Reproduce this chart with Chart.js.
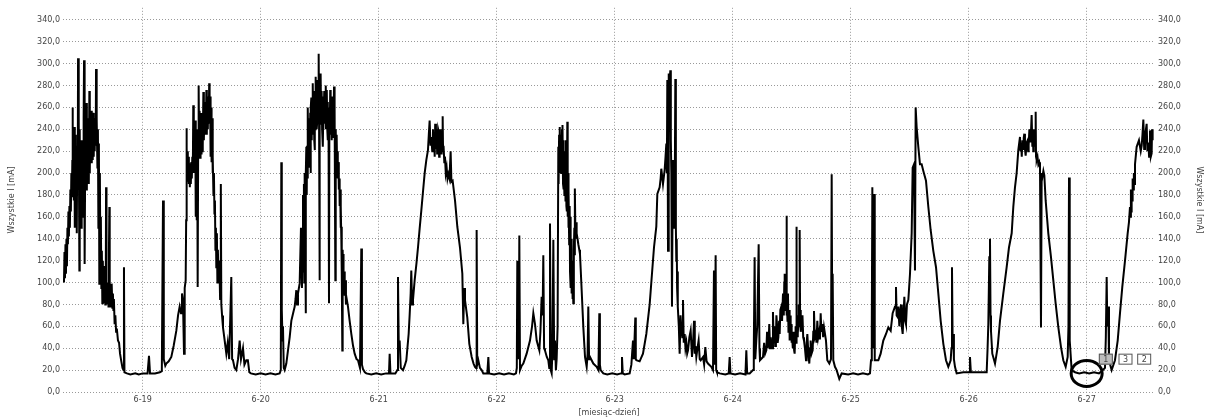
<!DOCTYPE html>
<html>
<head>
<meta charset="utf-8">
<script src="https://cdn.jsdelivr.net/npm/chart.js@4.4.0/dist/chart.umd.min.js"></script>
<style>
  html, body { margin: 0; padding: 0; background: #fff; }
  canvas { display: block; }
</style>
</head>
<body>
<canvas id="currentChart" width="1210" height="419"></canvas>
<script>
// x = hours since 6-18 00:00, y = current [mA]
const readings18 = [
  [8.0,100],[8.1,128],[8.2,104],[8.3,135],[8.4,108],[8.5,140],[8.6,115],[8.7,150],[8.8,135],[8.9,165],
  [9.0,142],[9.1,170],[9.2,150],[9.3,185],[9.4,165],[9.5,200],[9.6,178],[9.7,212],[9.75,260],[9.8,180],
  [9.9,230],[10.0,175],[10.1,242],[10.2,150],[10.3,235],[10.4,190],[10.5,220],[10.6,145],[10.7,225],[10.8,190],
  [10.86,305],[10.95,200],[11.05,250],[11.13,111],[11.2,240],[11.3,160],[11.4,230],[11.5,150],[11.6,196],[11.7,160],
  [11.8,230],[11.9,175],[12.0,250],[12.08,303],[12.15,190],[12.25,117],[12.35,240],[12.45,190],[12.55,264],[12.65,184],
  [12.75,250],[12.85,200],[12.95,240],[13.05,190],[13.16,275],[13.25,200],[13.35,250],[13.45,215],[13.55,257],[13.65,209],
  [13.77,250],[13.85,212],[13.95,255],[14.05,215],[14.15,250],[14.25,220],[14.35,248],[14.45,225],[14.52,295],[14.6,230],
  [14.7,250],[14.8,205],[14.9,240],[15.0,150],[15.1,227],[15.19,99],[15.3,200],[15.4,110],[15.5,160],[15.6,95],
  [15.7,129],[15.8,81],[15.9,120],[16.0,85],[16.1,110],[16.2,82],[16.3,115],[16.4,80],[16.5,100],[16.56,187],
  [16.65,85],[16.75,100],[16.85,80],[16.95,95],[17.05,78],[17.15,130],[17.23,169],[17.3,90],[17.4,78],[17.5,95],
  [17.6,80],[17.7,99],[17.84,77],[17.95,90],[18.05,75],[18.15,85],[18.3,62],[18.45,70],[18.6,55],[18.75,58],
  [18.98,47],[19.2,45],[19.4,35],[19.66,28],[19.9,22],[20.1,20],[20.2,114],[20.3,18],[20.8,17],[21.5,16],
  [22.5,17],[23.2,16],[24,17],[25.0,17],[25.29,33],[25.5,17],[26.5,17],[27.5,18],[27.9,19],[28.14,175],
  [28.3,30],[28.6,24],[28.81,26],[29.3,28],[29.83,32],[30.3,42],[30.85,56],[31.2,70],[31.53,78],[31.8,72],
  [32.0,90],[32.2,84],[32.41,35],[32.55,95],[32.75,102],[32.85,157],[32.9,241],[32.95,160],[33.0,223],[33.08,193],
  [33.15,220],[33.22,195],[33.3,215],[33.4,190],[33.5,209],[33.6,187],[33.7,205],[33.8,190],[33.9,210],[34.0,195],
  [34.1,215],[34.2,200],[34.3,262],[34.4,205],[34.5,230],[34.6,200],[34.7,248],[34.8,160],[34.9,240],[35.0,157],
  [35.1,230],[35.19,96],[35.3,235],[35.39,280],[35.48,230],[35.58,257],[35.68,214],[35.78,250],[35.88,218],[35.98,255],
  [36.08,220],[36.18,250],[36.27,225],[36.35,274],[36.45,230],[36.55,255],[36.65,235],[36.75,265],[36.85,240],[36.96,276],
  [37.05,235],[37.15,270],[37.25,240],[37.35,265],[37.45,245],[37.53,282],[37.62,250],[37.72,270],[37.82,215],[37.92,260],
  [38.02,210],[38.12,250],[38.2,200],[38.3,215],[38.4,180],[38.5,200],[38.6,163],[38.7,175],[38.8,130],[38.9,150],
  [38.98,114],[39.1,145],[39.2,100],[39.3,130],[39.45,100],[39.6,120],[39.75,85],[39.9,190],[40.0,80],[40.15,70],
  [40.34,59],[40.6,50],[41.02,35],[41.3,45],[41.6,30],[42.03,105],[42.2,30],[42.37,29],[42.7,22],[43.05,20],
  [43.4,30],[43.73,47],[44.0,30],[44.41,40],[44.7,25],[45.08,29],[45.4,29],[45.7,18]
];
const readings20 = [
  [46.0,17],[47,16],[48,17],[49,16],[50,17],[51,16],[51.86,17],[52.1,20],[52.2,210],[52.3,75],
  [52.45,47],[52.54,60],[52.7,22],[52.88,20],[53.22,26],[53.56,38],[53.9,50],[54.24,65],[54.6,72],[54.92,78],
  [55.1,85],[55.25,93],[55.4,80],[55.59,90],[55.93,99],[56.2,150],[56.4,95],[56.5,130],[56.61,180],[56.7,110],
  [56.8,190],[56.88,100],[56.95,200],[57.05,150],[57.15,72],[57.22,200],[57.29,224],[57.37,180],[57.45,225],[57.53,195],
  [57.63,260],[57.7,210],[57.78,240],[57.83,205],[57.9,250],[58.0,215],[58.08,255],[58.15,200],[58.22,260],[58.31,269],
  [58.38,230],[58.45,265],[58.55,235],[58.64,282],[58.72,240],[58.8,270],[58.9,230],[58.98,221],[59.05,275],[59.12,240],
  [59.19,288],[59.27,245],[59.35,275],[59.44,240],[59.53,248],[59.6,285],[59.7,250],[59.8,309],[59.87,260],[59.95,285],
  [60.0,102],[60.06,280],[60.13,250],[60.2,291],[60.3,245],[60.4,275],[60.5,240],[60.6,270],[60.68,224],[60.77,265],
  [60.85,250],[60.93,275],[61.02,245],[61.1,270],[61.2,240],[61.28,280],[61.36,250],[61.45,276],[61.55,240],[61.62,265],
  [61.69,230],[61.8,260],[61.9,81],[61.98,255],[62.05,235],[62.15,276],[62.24,240],[62.32,270],[62.4,230],[62.51,265],
  [62.6,233],[62.7,270],[62.8,240],[62.92,279],[63.0,235],[63.08,260],[63.19,102],[63.27,240],[63.35,215],[63.46,235],
  [63.55,205],[63.65,220],[63.73,195],[63.82,210],[63.9,185],[64.0,195],[64.07,170],[64.17,185],[64.25,150],[64.33,170],
  [64.41,140],[64.47,151],[64.52,110],[64.61,38],[64.68,130],[64.75,105],[64.82,126],[64.9,95],[65.0,110],[65.1,88],
  [65.22,102],[65.35,80],[65.5,85],[65.76,78],[66.1,65],[66.44,53],[66.8,42],[67.12,35],[67.5,30],[67.8,29],
  [68.2,22],[68.47,131],[68.6,25],[68.81,21],[69.2,18],[69.49,17],[70.5,16],[71.5,17],[72.5,16],[73.5,17],
  [74.1,17],[74.24,35],[74.4,17],[75.4,17],[75.8,20],[75.93,105],[76.1,40],[76.27,47],[76.5,22],[76.95,20],
  [77.3,24],[77.63,29],[78.1,53],[78.3,70],[78.51,90],[78.64,111],[78.8,80],[78.98,84],[79.32,102],[79.7,118],
  [80,132],[80.35,150],[80.68,166],[81.0,182],[81.36,200],[81.7,212],[82.03,221],[82.2,235],[82.37,248],[82.55,225],
  [82.71,233],[82.9,220],[83.05,240]
];
const readings22 = [
  [83.15,222],[83.3,228],[83.4,215],[83.5,245],[83.65,222],[83.8,240],[83.9,218],[84.0,225],[84.1,240],[84.2,238],
  [84.3,215],[84.4,220],[84.5,240],[84.6,235],[84.7,218],[84.8,225],[84.9,238],[85.02,252],[85.1,220],[85.2,225],
  [85.35,210],[85.49,215],[85.65,200],[85.83,205],[86.0,195],[86.17,199],[86.4,195],[86.64,220],[86.8,192],[87.05,193],
  [87.53,175],[88,151],[88.54,132],[89.02,108],[89.22,62],[89.4,95],[89.56,84],[90.03,68],[90.44,44],[90.92,32],
  [91.3,26],[91.59,23],[91.8,22],[91.93,148],[92.05,25],[92.27,29],[92.6,22],[92.95,20],[93.29,17],[94.1,17],
  [94.31,32],[94.45,17],[95.5,16],[96.5,17],[97.5,16],[98.5,17],[99.5,16],[99.93,17],[100.1,22],[100.2,120],
  [100.35,40],[100.5,30],[100.61,143],[100.75,20],[101.1,24],[101.42,26],[102.1,35],[102.78,47],[103.2,60],[103.46,72],
  [103.8,62],[104.14,47],[104.68,38],[104.9,55],[105.15,87],[105.35,70],[105.49,125],[105.65,40],[105.83,38],[106.2,32],
  [106.51,29],[106.7,22],[106.85,154],[107.0,20],[107.19,17],[107.35,40],[107.53,139],[107.7,30],[107.86,47],[108.05,20],
  [108.2,30],[108.4,60],[108.54,224],[108.6,190],[108.7,235],[108.78,200],[108.88,242],[108.95,205],[109.05,235],[109.12,200],
  [109.22,221],[109.3,240],[109.36,205],[109.42,244],[109.5,190],[109.55,230],[109.62,185],[109.69,212],[109.78,180],[109.9,220],
  [110.0,175],[110.1,230],[110.18,170],[110.25,215],[110.3,165],[110.37,247],[110.45,160],[110.52,200],[110.58,150],[110.66,184],
  [110.75,135],[110.85,170],[110.92,110],[111.0,160],[111.1,95],[111.18,140],[111.25,90],[111.33,120],[111.4,85],[111.5,110],
  [111.59,81],[111.7,130],[111.8,150],[111.88,125],[111.93,186],[112.0,150],[112.1,140],[112.2,155],[112.27,145],[112.45,140],
  [112.61,135],[112.8,130],[112.95,126],[113.29,93],[113.63,59],[113.97,32],[114.31,23],[114.5,35],[114.64,78],[114.8,30],
  [114.98,32],[115.66,26],[116.34,23],[116.7,20],[116.88,72],[117.0,25],[117.15,20],[117.69,17]
];
const readings23 = [
  [118.5,16],[119.5,17],[120.5,16],[121.3,17],[121.49,32],[121.65,17],[122.03,16],[123.05,17],[123.4,25],[123.73,47],
  [123.9,30],[124.2,68],[124.3,30],[124.41,29],[125.08,28],[125.76,35],[126.44,53],[127.12,80],[127.59,108],[128,132],
  [128.47,151],[128.68,181],[129.15,187],[129.35,195],[129.49,204],[129.83,190],[130.17,203],[130.35,215],[130.51,227],[130.62,200],
  [130.71,285],[130.78,240],[130.85,129],[130.95,270],[131.0,240],[131.05,291],[131.12,250],[131.2,285],[131.32,294],[131.4,250],
  [131.45,230],[131.53,200],[131.66,78],[131.8,190],[131.86,212],[131.95,170],[132.05,180],[132.12,150],[132.2,163],[132.34,286],
  [132.45,150],[132.54,120],[132.62,140],[132.7,95],[132.8,110],[132.88,78],[133.05,60],[133.22,35],[133.4,70],[133.56,59],
  [133.75,50],[133.9,84],[134.05,45],[134.24,53],[134.4,40],[134.58,45],[134.75,35],[134.92,38],[135.2,50],[135.46,56],
  [135.73,32],[135.95,45],[136.14,65],[136.3,35],[136.45,42],[136.61,32],[136.85,40],[137.08,47],[137.3,30],[137.49,29],
  [137.97,32],[138.2,25],[138.44,41],[138.7,28],[138.98,26],[139.66,23],[140.0,20],[140.2,111],[140.35,25],[140.54,125],
  [140.65,20],[140.81,18],[141.36,17],[142.5,16],[143.2,17],[143.39,32],[143.55,17],[144.5,16],[145.5,17],[146.6,16],
  [146.78,38],[146.95,17],[147.46,17],[148.14,20],[148.3,40],[148.47,123],[148.6,30],[148.81,47],[149.0,60],[149.29,135],
  [149.45,40],[149.56,29],[150.17,32],[150.4,45],[150.6,35],[150.85,38],[151.0,55],[151.15,40],[151.32,47],[151.45,62],
  [151.6,40],[151.75,50],[151.86,44],[152.05,40],[152.2,73],[152.35,45],[152.45,60],[152.54,53],[152.65,42],[152.8,48],
  [152.9,70],[153.02,62],[153.15,45],[153.3,50],[153.45,65],[153.56,53],[153.7,75],[153.9,78],[154.05,65],[154.24,90],
  [154.4,70],[154.5,100],[154.58,108],[154.68,75],[154.75,80],[154.85,100],[154.92,161],[155.0,70],[155.05,85],[155.15,65],
  [155.25,90],[155.35,55],[155.45,60],[155.52,75],[155.59,47],[155.68,65],[155.75,70],[155.85,50],[155.93,62],[156.0,45],
  [156.1,50],[156.2,40],[156.27,44],[156.4,55],[156.5,38],[156.61,35],[156.7,50],[156.8,60],[156.9,45],[156.95,151],
  [157.05,60],[157.1,70],[157.2,50],[157.29,53],[157.38,65],[157.45,80],[157.55,60],[157.63,148],[157.72,65],[157.8,75],
  [157.9,55],[157.97,60]
];
const readings25 = [
  [158.2,70],[158.35,50],[158.51,47],[158.7,40],[158.92,29],[159.05,45],[159.19,53],[159.4,35],[159.59,26],[159.75,40],
  [159.86,47],[160.05,35],[160.27,38],[160.4,55],[160.54,74],[160.7,50],[160.88,53],[161.05,45],[161.22,65],[161.4,50],
  [161.63,56],[161.75,48],[161.9,72],[162.05,55],[162.24,62],[162.4,50],[162.58,59],[162.98,47],[163.25,29],[163.66,26],
  [164.0,30],[164.14,199],[164.25,60],[164.34,108],[164.47,29],[164.81,23],[165.15,20],[165.69,12],[166.17,17],[167.5,16],
  [168.5,17],[169.5,16],[170.5,17],[171.5,16],[171.93,17],[172.14,29],[172.3,60],[172.41,187],[172.55,40],[172.75,181],
  [172.85,40],[172.95,29],[173.63,29],[174.1,35],[174.64,47],[175.19,53],[175.66,59],[176.14,56],[176.54,72],[177.02,78],
  [177.22,96],[177.35,70],[177.49,69],[177.7,78],[177.9,60],[178.05,72],[178.24,80],[178.4,60],[178.58,53],[178.75,70],
  [178.92,87],[179.1,65],[179.25,62],[179.45,80],[179.73,84],[180.07,108],[180.41,145],[180.61,205],[180.88,208],[181.08,111],
  [181.22,260],[181.42,242],[181.76,224],[182.1,208],[182.44,208],[182.78,202],[183.32,193],[183.8,169],[184.27,148],[184.81,129],
  [185.36,114],[185.83,90],[186.31,65],[186.85,44],[187.39,29],[187.86,23],[188.34,29],[188.5,40],[188.61,114],[188.75,40],
  [188.88,53],[189.0,30],[189.22,23],[189.56,17],[190.92,18],[192.1,18],[192.27,32],[192.45,18],[193.5,18],[194.5,18],
  [195.66,18],[195.85,40],[196.0,62],[196.2,123]
];
const readings26 = [
  [196.34,140],[196.45,70],[196.54,56],[196.81,35],[197.36,26],[197.9,41],[198.37,65],[199.05,90],[199.73,114],[200.2,132],
  [200.75,145],[201.08,169],[201.42,187],[201.76,200],[202.1,221],[202.44,233],[202.55,220],[202.7,225],[202.8,215],[202.92,230],
  [203.1,222],[203.2,232],[203.32,236],[203.45,222],[203.59,216],[203.8,228],[204,230],[204.1,220],[204.2,225],[204.35,240],
  [204.47,236],[204.6,228],[204.81,253],[204.95,225],[205.05,240],[205.15,220],[205.25,235],[205.36,240],[205.5,225],[205.63,256],
  [205.7,215],[205.83,212],[206.0,215],[206.17,208],[206.35,210],[206.51,205],[206.71,59],[206.85,200],[206.98,196],[207.2,202],
  [207.39,198],[207.66,175],[208.2,145],[208.75,123],[209.22,102],[209.69,81],[210.24,59],[210.78,41],[211.25,29],[211.73,23],
  [212.14,32],[212.3,60],[212.41,196],[212.5,80],[212.61,47],[212.95,20],[213.63,18],[214.5,17],[215.5,18],[216.5,17],
  [217.5,18],[218.5,17],[219.05,19],[219.73,22],[219.9,50],[220.07,105],[220.2,60],[220.41,78],[220.54,29],[221.08,20],
  [221.76,29],[222.31,47],[222.78,72],[223.25,96],[223.8,120],[224.34,145],[224.6,155],[224.81,169],[224.9,160],[225.0,185],
  [225.08,165],[225.15,184],[225.25,175],[225.35,195],[225.49,185],[225.6,200],[225.7,190],[225.83,208],[226.17,224],[226.64,230],
  [227.0,220],[227.19,225],[227.35,235],[227.53,249],[227.7,222],[227.86,224],[228.0,238],[228.2,245],[228.35,220],[228.54,228],
  [228.7,215],[228.88,239],[229.05,215],[229.22,218],[229.3,240],[229.42,230]
];

const dayHours = [24, 48, 72, 96, 120, 144, 168, 192, 216];
const dayLabels = ['6-19', '6-20', '6-21', '6-22', '6-23', '6-24', '6-25', '6-26', '6-27'];
const yTicks = [0, 20, 40, 60, 80, 100, 120, 140, 160, 180, 200, 220, 240, 260, 280, 300, 320, 340];

// markers in the lower right corner
const markerLabels = ['1', '3', '2'];
const markerHours = [219.9, 223.9, 227.7];
const markerLevel = 30;
const circleHour = 216;
const circleLevel = 17;

const points = [].concat(readings18, readings20, readings22, readings23, readings25, readings26)
    .map(([x, y]) => ({ x, y }));

const textColor = '#444';
const gridColor = '#999';
const smallFont = { family: 'DejaVu Sans', size: 8 };

function formatTick(v) {
    return v.toFixed(1).replace('.', ',');
}

const markerPlugin = {
    id: 'markers',
    afterDatasetsDraw(chart) {
        const ctx = chart.ctx;
        const xs = chart.scales.x;
        const ys = chart.scales.y;
        ctx.save();
        // circle around the 6-27 minimum
        const cx = xs.getPixelForValue(circleHour);
        const cy = ys.getPixelForValue(circleLevel);
        ctx.beginPath();
        ctx.ellipse(cx, cy, 15.5, 13, 0, 0, Math.PI * 2);
        ctx.lineWidth = 3;
        ctx.strokeStyle = '#000';
        ctx.stroke();

        ctx.font = '8px "DejaVu Sans"';
        ctx.textAlign = 'center';
        ctx.textBaseline = 'middle';
        markerLabels.forEach((label, i) => {
            const mx = xs.getPixelForValue(markerHours[i]);
            const my = ys.getPixelForValue(markerLevel);
            ctx.fillStyle = i === 0 ? '#bdbdbd' : '#fff';
            ctx.fillRect(mx - 7, my - 5.5, 14, 11);
            ctx.lineWidth = 1;
            ctx.strokeStyle = '#555';
            ctx.strokeRect(mx - 6.5, my - 5, 13, 10);
            ctx.fillStyle = textColor;
            ctx.fillText(label, mx, my + 0.5);
        });
        ctx.restore();
    }
};

const ctx = document.getElementById('currentChart').getContext('2d');
window.currentChart = new Chart(ctx, {
    type: 'line',
    data: {
        datasets: [{
            label: 'Wszystkie I',
            data: points,
            borderColor: '#000',
            borderWidth: 2,
            pointRadius: 0,
            tension: 0,
            yAxisID: 'y'
        }]
    },
    options: {
        responsive: false,
        animation: false,
        devicePixelRatio: 1,
        layout: { padding: { top: 7 } },
        plugins: {
            legend: { display: false },
            tooltip: { enabled: false }
        },
        scales: {
            x: {
                type: 'linear',
                min: 7.8,
                max: 229.9,
                afterBuildTicks: scale => { scale.ticks = dayHours.map(v => ({ value: v })); },
                afterFit: scale => { scale.height = 27; },
                ticks: {
                    autoSkip: false,
                    maxRotation: 0,
                    padding: 3,
                    color: textColor,
                    font: smallFont,
                    callback: (value, index) => dayLabels[index]
                },
                grid: { color: gridColor, drawTicks: false, lineWidth: 1 },
                border: { display: false, dash: [1, 2] },
                title: {
                    display: true,
                    text: '[miesiąc-dzień]',
                    color: textColor,
                    font: smallFont,
                    padding: { top: 0, bottom: 1 }
                }
            },
            y: {
                position: 'left',
                min: 0,
                max: 351,
                afterBuildTicks: scale => { scale.ticks = yTicks.map(v => ({ value: v })); },
                afterFit: scale => { scale.width = 63; },
                ticks: { padding: 3, color: textColor, font: smallFont, callback: v => formatTick(v) },
                grid: { color: gridColor, drawTicks: false, lineWidth: 1 },
                border: { display: false, dash: [1, 2] },
                title: {
                    display: true,
                    text: 'Wszystkie I [mA]',
                    color: textColor,
                    font: smallFont,
                    padding: { top: 7, bottom: 0 }
                }
            },
            y2: {
                position: 'right',
                min: 0,
                max: 351,
                afterBuildTicks: scale => { scale.ticks = yTicks.map(v => ({ value: v })); },
                afterFit: scale => { scale.width = 55; },
                ticks: { padding: 3, color: textColor, font: smallFont, callback: v => formatTick(v) },
                grid: { display: false, drawTicks: false },
                border: { display: false },
                title: {
                    display: true,
                    text: 'Wszystkie I [mA]',
                    color: textColor,
                    font: smallFont,
                    padding: { top: 6, bottom: 0 }
                }
            }
        }
    },
    plugins: [markerPlugin]
});
</script>
</body>
</html>
